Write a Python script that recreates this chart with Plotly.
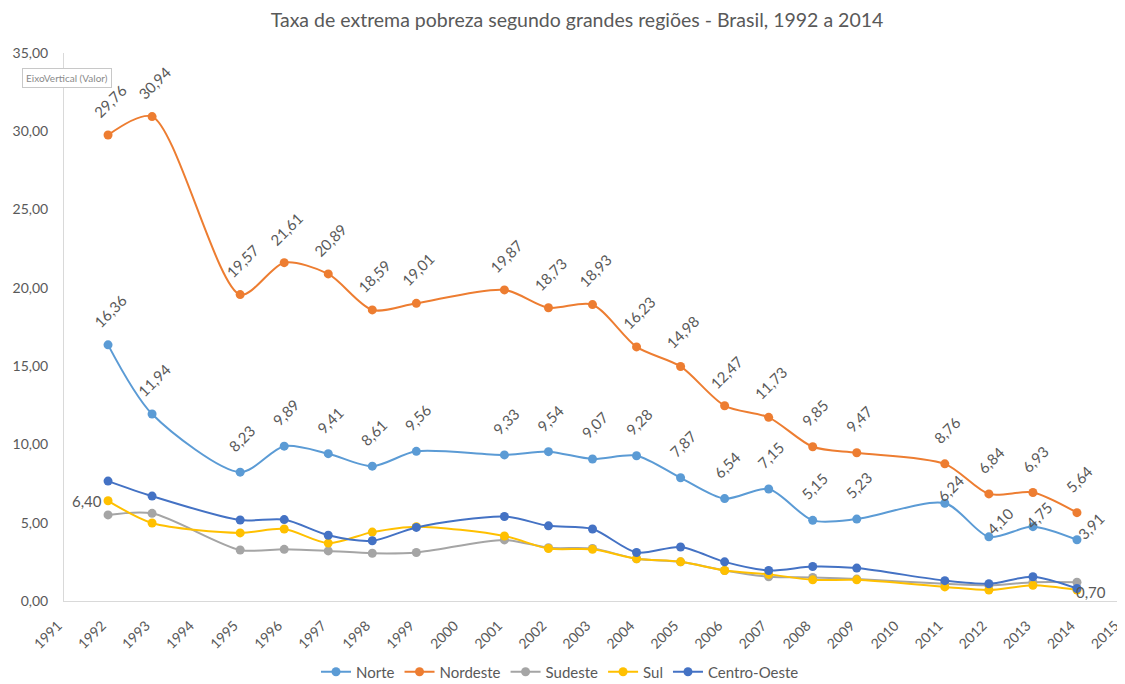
import plotly.graph_objects as go

anos = [1992, 1993, 1995, 1996, 1997, 1998, 1999, 2001, 2002, 2003, 2004,
        2005, 2006, 2007, 2008, 2009, 2011, 2012, 2013, 2014]
ticks_anos = list(range(1991, 2016))

norte = [16.36, 11.94, 8.23, 9.89, 9.41, 8.61, 9.56, 9.33, 9.54, 9.07, 9.28,
         7.87, 6.54, 7.15, 5.15, 5.23, 6.24, 4.10, 4.75, 3.91]
nordeste = [29.76, 30.94, 19.57, 21.61, 20.89, 18.59, 19.01, 19.87, 18.73, 18.93, 16.23,
            14.98, 12.47, 11.73, 9.85, 9.47, 8.76, 6.84, 6.93, 5.64]
sudeste = [5.50, 5.60, 3.26, 3.30, 3.20, 3.05, 3.10, 3.90, 3.40, 3.35, 2.70,
           2.50, 1.95, 1.55, 1.50, 1.40, 1.10, 1.00, 1.20, 1.20]
sul = [6.40, 4.98, 4.35, 4.60, 3.70, 4.40, 4.75, 4.15, 3.35, 3.30, 2.70,
       2.50, 1.95, 1.70, 1.35, 1.35, 0.90, 0.70, 1.00, 0.70]
centro_oeste = [7.66, 6.70, 5.17, 5.20, 4.20, 3.85, 4.70, 5.40, 4.80, 4.60, 3.10,
                3.45, 2.50, 1.95, 2.20, 2.10, 1.30, 1.10, 1.55, 0.80]

series = [
    ("Norte", norte, "#5B9BD5"),
    ("Nordeste", nordeste, "#ED7D31"),
    ("Sudeste", sudeste, "#A5A5A5"),
    ("Sul", sul, "#FFC000"),
    ("Centro-Oeste", centro_oeste, "#4472C4"),
]

FONT = "Lato"
GREY = "#595959"

# the page body has an 8px margin, so the figure is drawn 8px in from the top-left
OFF = 8
W, H = 1125 - OFF, 684 - OFF
L, R, T, B = 64 - OFF, 4, 53 - OFF, 83
PW, PH = W - L - R, H - T - B


def fmt(v):
    return f"{v:.2f}".replace(".", ",")


def py(page_y):
    return (T + PH - (page_y - OFF)) / PH


def px(page_x):
    return (page_x - OFF - L) / PW


fig = go.Figure()
for name, vals, color in series:
    fig.add_trace(go.Scatter(
        x=anos, y=vals, name=name, mode="lines+markers",
        line=dict(color=color, width=2, shape="spline", smoothing=0.8),
        marker=dict(color=color, size=9),
    ))

annotations = []
special_norte = {2011: (6, -15), 2012: (11, -16), 2013: (6, -12), 2014: (14, -14)}
for name, vals in (("Norte", norte), ("Nordeste", nordeste)):
    for a, v in zip(anos, vals):
        dx, dy = 2, -34
        if name == "Norte" and a in special_norte:
            dx, dy = special_norte[a]
        annotations.append(dict(
            x=a, y=v, xref="x", yref="y", text=fmt(v), showarrow=False,
            textangle=-45, xshift=dx, yshift=-dy,
            font=dict(family=FONT, size=15, color=GREY),
        ))

annotations.append(dict(x=anos[0], y=sul[0], xref="x", yref="y", text=fmt(sul[0]),
                        showarrow=False, xanchor="right", xshift=-4,
                        font=dict(family=FONT, size=15, color=GREY)))
annotations.append(dict(x=anos[-1], y=sul[-1], xref="x", yref="y", text=fmt(sul[-1]),
                        showarrow=False, xanchor="left", xshift=-3, yshift=-2,
                        font=dict(family=FONT, size=15, color=GREY)))

annotations.append(dict(x=px(22), y=py(68), xref="paper", yref="paper",
                        xanchor="left", yanchor="top",
                        text="EixoVertical (Valor)", showarrow=False,
                        font=dict(family=FONT, size=10, color="#8a8a8a"),
                        bgcolor="#ffffff", bordercolor="#c8c8c8", borderwidth=1, borderpad=3))

fig.update_layout(
    width=W, height=H,
    margin=dict(l=L, r=R, t=T, b=B, autoexpand=False),
    paper_bgcolor="white", plot_bgcolor="white",
    separators=",.",
    title=dict(text="Taxa de extrema pobreza segundo grandes regiões - Brasil, 1992 a 2014",
               x=px(577), xref="paper", xanchor="center", y=1 - (20 - OFF) / H, yanchor="middle",
               font=dict(family=FONT, size=19.5, color=GREY)),
    font=dict(family=FONT, color=GREY),
    showlegend=True,
    legend=dict(orientation="h", x=px(560), xanchor="center", y=py(672),
                yanchor="middle", font=dict(family=FONT, size=15, color=GREY),
                itemwidth=30, traceorder="normal"),
    annotations=annotations,
)

fig.update_xaxes(range=[1991, 2015], tickvals=ticks_anos, ticktext=[str(t) for t in ticks_anos],
                 tickangle=-45, automargin=False, ticklabeloverflow="allow",
                 ticklabelshift=-6,
                 showgrid=False, zeroline=False, showline=True, linecolor="#D9D9D9",
                 linewidth=1, ticks="outside", ticklen=10, tickcolor="rgba(0,0,0,0)",
                 tickfont=dict(family=FONT, size=14, color=GREY))
fig.update_yaxes(range=[0, 35], dtick=5, tickformat=".2f", automargin=False,
                 showgrid=False, zeroline=False, showline=True, linecolor="#D9D9D9",
                 linewidth=1, ticks="outside", ticklen=12, tickcolor="rgba(0,0,0,0)",
                 tickfont=dict(family=FONT, size=14, color=GREY))

fig.write_html("out.html")
